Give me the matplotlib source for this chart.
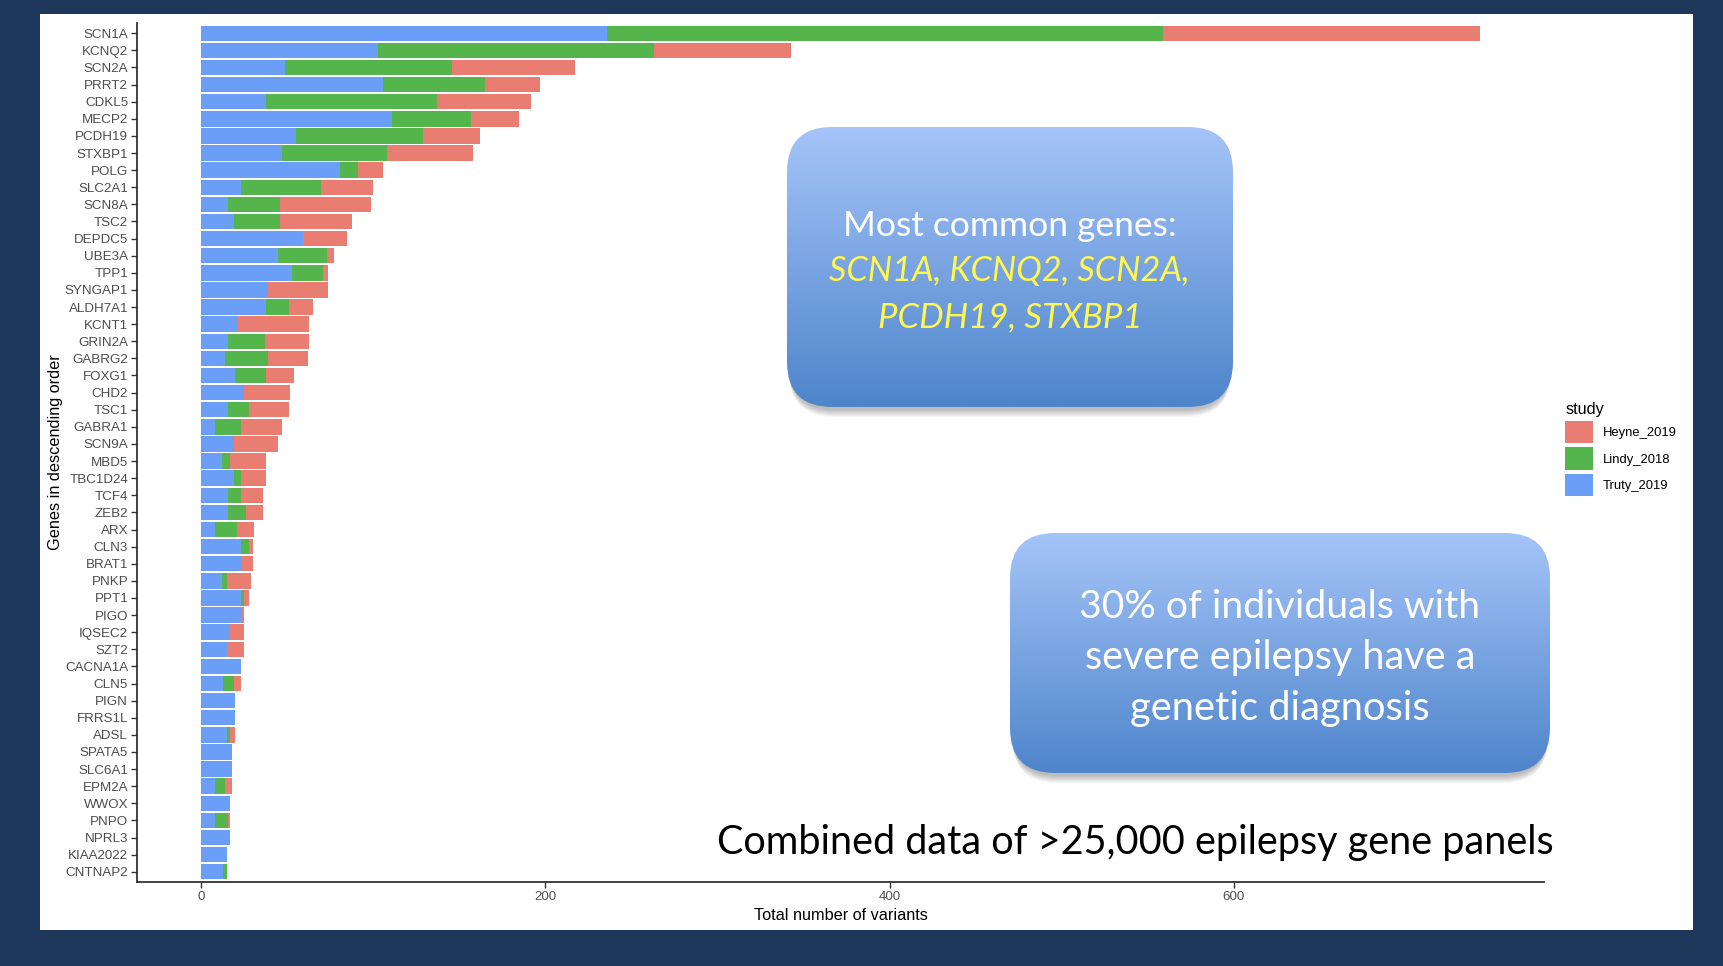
import matplotlib
matplotlib.use("Agg")
import matplotlib.pyplot as plt
import numpy as np
from matplotlib.patches import FancyBboxPatch, Patch, Rectangle

# variants per gene, ordered by total
genes = ["SCN1A", "KCNQ2", "SCN2A", "PRRT2", "CDKL5", "MECP2", "PCDH19", "STXBP1",
         "POLG", "SLC2A1", "SCN8A", "TSC2", "DEPDC5", "UBE3A", "TPP1", "SYNGAP1",
         "ALDH7A1", "KCNT1", "GRIN2A", "GABRG2", "FOXG1", "CHD2", "TSC1", "GABRA1",
         "SCN9A", "MBD5", "TBC1D24", "TCF4", "ZEB2", "ARX", "CLN3", "BRAT1", "PNKP",
         "PPT1", "PIGO", "IQSEC2", "SZT2", "CACNA1A", "CLN5", "PIGN", "FRRS1L", "ADSL",
         "SPATA5", "SLC6A1", "EPM2A", "WWOX", "PNPO", "NPRL3", "KIAA2022", "CNTNAP2"]
truty = [236, 103, 49, 106, 38, 111, 55, 47, 81, 23,
         16, 19, 59, 45, 53, 39, 38, 21, 16, 14,
         20, 25, 16, 8, 19, 12, 19, 16, 16, 8,
         23, 24, 12, 23, 23, 17, 15, 23, 13, 20,
         20, 15, 18, 18, 8, 17, 8, 17, 15, 13]
lindy = [323, 160, 97, 59, 99, 46, 74, 61, 10, 47,
         30, 27, 0, 28, 18, 0, 13, 0, 21, 25,
         18, 0, 12, 15, 0, 5, 4, 7, 10, 13,
         5, 0, 3, 2, 0, 0, 0, 0, 6, 0,
         0, 2, 0, 0, 6, 0, 8, 0, 0, 2]
heyne = [184, 80, 71, 32, 55, 28, 33, 50, 15, 30,
         53, 42, 26, 4, 3, 35, 14, 42, 26, 23,
         16, 27, 23, 24, 26, 21, 15, 13, 10, 10,
         2, 6, 14, 3, 2, 8, 10, 0, 4, 0,
         0, 3, 0, 0, 4, 0, 1, 0, 0, 0]
studies = ["Truty_2019", "Lindy_2018", "Heyne_2019"]
colors = {"Truty_2019": "#6A9EF7", "Lindy_2018": "#53B54C", "Heyne_2019": "#E97D71"}

W, H = 1724, 966
NAVY = "#1F375B"

fig = plt.figure(figsize=(W / 100, H / 100), dpi=100, facecolor=NAVY)

# white slide area
fig.add_artist(Rectangle((40 / W, 1 - 930 / H), (1693 - 40) / W, (930 - 14) / H,
                         transform=fig.transFigure, facecolor="white",
                         edgecolor="none", zorder=-5))

def px_axes(x0, y0, x1, y1):
    return [x0 / W, 1 - y1 / H, (x1 - x0) / W, (y1 - y0) / H]

ax = fig.add_axes(px_axes(137, 23, 1544, 882))
ax.set_facecolor("none")

n = len(genes)
y = np.arange(n)[::-1]
left = np.zeros(n)
for name, vals in zip(studies, [truty, lindy, heyne]):
    vals = np.array(vals, dtype=float)
    ax.barh(y, vals, left=left, height=0.9, color=colors[name],
            edgecolor="none", label=name)
    left += vals

xmax = left.max()
ax.set_xlim(-0.05 * xmax, xmax * 1.05)
ax.set_ylim(-0.6, n - 1 + 0.6)
ax.set_yticks(y)
ax.set_yticklabels(genes)
ax.set_xticks([0, 200, 400, 600])

for s in ["top", "right"]:
    ax.spines[s].set_visible(False)
for s in ["left", "bottom"]:
    ax.spines[s].set_color("#333333")
    ax.spines[s].set_linewidth(1.3)
ax.tick_params(colors="#333333", labelcolor="#4D4D4D", length=4.3, width=1,
               labelsize=9.6, pad=2)
for lab in ax.get_xticklabels() + ax.get_yticklabels():
    lab.set_family("Liberation Sans")

ax.set_xlabel("Total number of variants", fontsize=11.7, family="Liberation Sans",
              color="black", labelpad=4)
ax.set_ylabel("Genes in descending order", fontsize=11.7, family="Liberation Sans",
              color="black", labelpad=1)

# legend, ggplot style
order = ["Heyne_2019", "Lindy_2018", "Truty_2019"]
leg = fig.legend([Patch(facecolor=colors[k], edgecolor="none") for k in order], order,
                 loc="upper left", bbox_to_anchor=(1560 / W, 1 - 397 / H),
                 frameon=False, title="study", alignment="left",
                 prop={"family": "Liberation Sans", "size": 9.4},
                 handlelength=2.1, handleheight=2.25, labelspacing=0.3,
                 handletextpad=0.75, borderpad=0.4, borderaxespad=0)
leg.get_title().set_fontsize(11.7)
leg.get_title().set_family("Liberation Sans")

# overlay for slide call-outs, pixel coordinates
ov = fig.add_axes([0, 0, 1, 1], zorder=10)
ov.set_xlim(0, W)
ov.set_ylim(H, 0)
ov.axis("off")
ov.patch.set_alpha(0)

grad = np.linspace(0, 1, 256)[:, None]
top_c = np.array([165, 196, 248]) / 255
bot_c = np.array([78, 133, 203]) / 255
grad_img = (top_c[None, None, :] * (1 - grad[..., None]) + bot_c[None, None, :] * grad[..., None])


def callout(x0, y0, x1, y1, r=45):
    for k in range(8):
        sh = FancyBboxPatch((x0 + 2, y0 + 3 + k), x1 - x0 - 4, y1 - y0,
                            boxstyle="round,pad=0,rounding_size=%d" % r,
                            facecolor="black", edgecolor="none", alpha=0.035, zorder=1)
        ov.add_patch(sh)
    box = FancyBboxPatch((x0, y0), x1 - x0, y1 - y0,
                         boxstyle="round,pad=0,rounding_size=%d" % r,
                         facecolor="none", edgecolor="none", zorder=2)
    ov.add_patch(box)
    im = ov.imshow(grad_img, extent=[x0, x1, y1, y0], aspect="auto",
                   interpolation="bilinear", zorder=3)
    im.set_clip_path(box)


renderer = fig.canvas.get_renderer()


def fit_text(x, yb, txt, width, **kw):
    t = ov.text(x, yb, txt, ha="center", va="baseline", fontsize=20, zorder=5, **kw)
    bb = t.get_window_extent(renderer)
    t.set_fontsize(20 * width / bb.width)
    return t


callout(787, 127, 1233, 407)
fit_text(1010, 236, "Most common genes:", 334, color="white", family="Lato")
fit_text(1009, 281, "SCN1A, KCNQ2, SCN2A,", 361, color="#FFF650", family="Lato", style="italic")
fit_text(1010, 327, "PCDH19, STXBP1", 264, color="#FFF650", family="Lato", style="italic")

callout(1010, 533, 1550, 773)
fit_text(1280, 618, "30% of individuals with", 403, color="white", family="Lato")
fit_text(1280, 669, "severe epilepsy have a", 392, color="white", family="Lato")
fit_text(1280, 720, "genetic diagnosis", 300, color="white", family="Lato")

fit_text(1135, 854, "Combined data of >25,000 epilepsy gene panels", 838,
         color="black", family="Lato")

fig.savefig("out.png", dpi=100, facecolor=NAVY)
